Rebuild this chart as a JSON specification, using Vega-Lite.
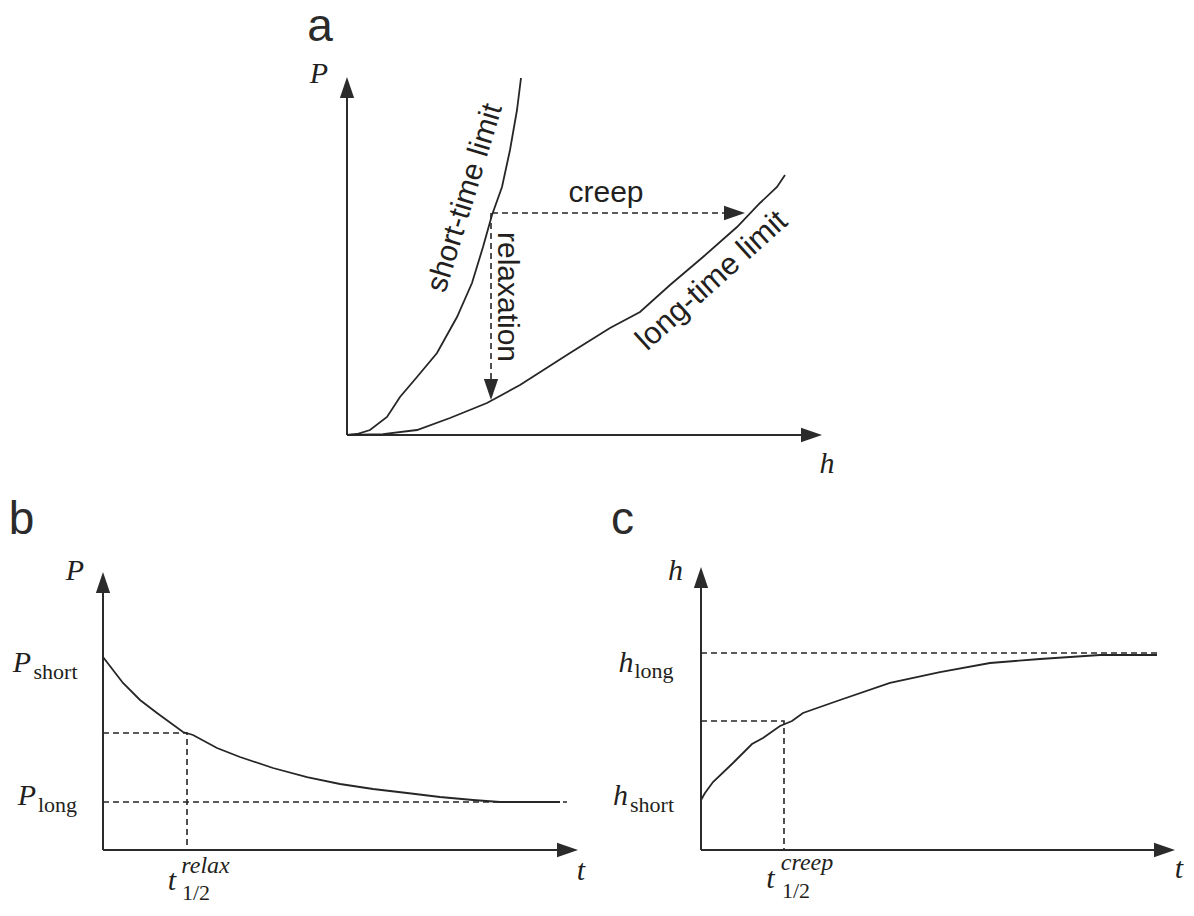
{
  "$schema": "https://vega.github.io/schema/vega-lite/v6.json",
  "padding": 0,
  "spacing": 0,
  "background": "white",
  "config": {"view": {"stroke": null}, "concat": {"spacing": 0}},
  "datasets": {
    "panel_a": [
      {"kind": "axis", "series": "P", "i": 0, "h": 0, "P": 0},
      {"kind": "axis", "series": "P", "i": 1, "h": 0, "P": 8.69},
      {"kind": "axis", "series": "h", "i": 0, "h": 0, "P": 0},
      {"kind": "axis", "series": "h", "i": 1, "h": 9.29, "P": 0},
      {"kind": "curve", "series": "short-time limit", "i": 0, "h": 0, "P": 0},
      {"kind": "curve", "series": "short-time limit", "i": 1, "h": 0.2, "P": 0.025},
      {"kind": "curve", "series": "short-time limit", "i": 2, "h": 0.46, "P": 0.125},
      {"kind": "curve", "series": "short-time limit", "i": 3, "h": 0.8, "P": 0.45},
      {"kind": "curve", "series": "short-time limit", "i": 4, "h": 1.06, "P": 0.95},
      {"kind": "curve", "series": "short-time limit", "i": 5, "h": 1.4, "P": 1.45},
      {"kind": "curve", "series": "short-time limit", "i": 6, "h": 1.8, "P": 2.05},
      {"kind": "curve", "series": "short-time limit", "i": 7, "h": 2.2, "P": 2.95},
      {"kind": "curve", "series": "short-time limit", "i": 8, "h": 2.5, "P": 3.8},
      {"kind": "curve", "series": "short-time limit", "i": 9, "h": 2.72, "P": 4.7},
      {"kind": "curve", "series": "short-time limit", "i": 10, "h": 2.9, "P": 5.5},
      {"kind": "curve", "series": "short-time limit", "i": 11, "h": 3.1, "P": 6.2},
      {"kind": "curve", "series": "short-time limit", "i": 12, "h": 3.26, "P": 7.125},
      {"kind": "curve", "series": "short-time limit", "i": 13, "h": 3.4, "P": 8.125},
      {"kind": "curve", "series": "short-time limit", "i": 14, "h": 3.48, "P": 8.925},
      {"kind": "curve", "series": "long-time limit", "i": 0, "h": 0, "P": 0},
      {"kind": "curve", "series": "long-time limit", "i": 1, "h": 0.72, "P": 0.02},
      {"kind": "curve", "series": "long-time limit", "i": 2, "h": 1.4, "P": 0.125},
      {"kind": "curve", "series": "long-time limit", "i": 3, "h": 2.06, "P": 0.425},
      {"kind": "curve", "series": "long-time limit", "i": 4, "h": 2.8, "P": 0.8},
      {"kind": "curve", "series": "long-time limit", "i": 5, "h": 3.46, "P": 1.25},
      {"kind": "curve", "series": "long-time limit", "i": 6, "h": 4.46, "P": 2.05},
      {"kind": "curve", "series": "long-time limit", "i": 7, "h": 5.26, "P": 2.675},
      {"kind": "curve", "series": "long-time limit", "i": 8, "h": 5.86, "P": 3.075},
      {"kind": "curve", "series": "long-time limit", "i": 9, "h": 6.46, "P": 3.75},
      {"kind": "curve", "series": "long-time limit", "i": 10, "h": 7.12, "P": 4.45},
      {"kind": "curve", "series": "long-time limit", "i": 11, "h": 7.8, "P": 5.2},
      {"kind": "curve", "series": "long-time limit", "i": 12, "h": 8.26, "P": 5.8},
      {"kind": "curve", "series": "long-time limit", "i": 13, "h": 8.6, "P": 6.2},
      {"kind": "curve", "series": "long-time limit", "i": 14, "h": 8.76, "P": 6.5},
      {"kind": "guide", "series": "creep", "i": 0, "h": 2.9, "P": 5.55},
      {"kind": "guide", "series": "creep", "i": 1, "h": 7.75, "P": 5.55},
      {"kind": "guide", "series": "relaxation", "i": 0, "h": 2.88, "P": 5.55},
      {"kind": "guide", "series": "relaxation", "i": 1, "h": 2.88, "P": 1.14},
      {"kind": "arrow-up", "h": 0, "P": 8.6875},
      {"kind": "arrow-right", "h": 9.29, "P": 0},
      {"kind": "arrow-right", "h": 7.75, "P": 5.55},
      {"kind": "arrow-down", "h": 2.88, "P": 1.1375},
      {"kind": "letter", "label": "a", "h": -0.54, "P": 9.86},
      {"kind": "var", "label": "P", "h": -0.56, "P": 8.8},
      {"kind": "var", "label": "h", "h": 9.6, "P": -0.95},
      {"kind": "word", "label": "creep", "h": 5.18, "P": 5.825},
      {"kind": "word-relax", "label": "relaxation", "h": 3.2, "P": 3.45},
      {"kind": "word-short", "label": "short-time limit", "h": 2.36, "P": 5.925},
      {"kind": "word-long", "label": "long-time limit", "h": 7.3, "P": 3.85}
    ],
    "panel_b": [
      {"kind": "axis", "series": "P", "i": 0, "t": 0, "P": 0},
      {"kind": "axis", "series": "P", "i": 1, "t": 0, "P": 8.917},
      {"kind": "axis", "series": "t", "i": 0, "t": 0, "P": 0},
      {"kind": "axis", "series": "t", "i": 1, "t": 9.29, "P": 0},
      {"kind": "curve", "series": "relaxation", "i": 0, "t": 0, "P": 6.433},
      {"kind": "curve", "series": "relaxation", "i": 1, "t": 0.2, "P": 6.0},
      {"kind": "curve", "series": "relaxation", "i": 2, "t": 0.4, "P": 5.567},
      {"kind": "curve", "series": "relaxation", "i": 3, "t": 0.74, "P": 5.0},
      {"kind": "curve", "series": "relaxation", "i": 4, "t": 1.08, "P": 4.567},
      {"kind": "curve", "series": "relaxation", "i": 5, "t": 1.6, "P": 3.933},
      {"kind": "curve", "series": "relaxation", "i": 6, "t": 1.8, "P": 3.833},
      {"kind": "curve", "series": "relaxation", "i": 7, "t": 2.28, "P": 3.4},
      {"kind": "curve", "series": "relaxation", "i": 8, "t": 2.74, "P": 3.1},
      {"kind": "curve", "series": "relaxation", "i": 9, "t": 3.4, "P": 2.733},
      {"kind": "curve", "series": "relaxation", "i": 10, "t": 4.08, "P": 2.433},
      {"kind": "curve", "series": "relaxation", "i": 11, "t": 4.74, "P": 2.2},
      {"kind": "curve", "series": "relaxation", "i": 12, "t": 5.4, "P": 2.033},
      {"kind": "curve", "series": "relaxation", "i": 13, "t": 6.08, "P": 1.9},
      {"kind": "curve", "series": "relaxation", "i": 14, "t": 6.74, "P": 1.767},
      {"kind": "curve", "series": "relaxation", "i": 15, "t": 7.4, "P": 1.667},
      {"kind": "curve", "series": "relaxation", "i": 16, "t": 7.94, "P": 1.6},
      {"kind": "curve", "series": "relaxation", "i": 17, "t": 9.14, "P": 1.6},
      {"kind": "guide", "series": "half", "i": 0, "t": 0, "P": 3.9},
      {"kind": "guide", "series": "half", "i": 1, "t": 1.68, "P": 3.9},
      {"kind": "guide", "series": "half", "i": 2, "t": 1.68, "P": 0},
      {"kind": "guide", "series": "long", "i": 0, "t": 0, "P": 1.6},
      {"kind": "guide", "series": "long", "i": 1, "t": 9.28, "P": 1.6},
      {"kind": "arrow-up", "t": 0, "P": 8.917},
      {"kind": "arrow-right", "t": 9.29, "P": 0},
      {"kind": "letter", "label": "b", "t": -1.63, "P": 10.533},
      {"kind": "var", "label": "P", "t": -0.56, "P": 9.0},
      {"kind": "var", "label": "P", "t": -1.62, "P": 5.933},
      {"kind": "var", "label": "P", "t": -1.52, "P": 1.5},
      {"kind": "var", "label": "t", "t": 9.56, "P": -1.0},
      {"kind": "var", "label": "t", "t": 1.38, "P": -1.333},
      {"kind": "sub", "label": "short", "t": -0.95, "P": 5.7},
      {"kind": "sub", "label": "long", "t": -0.91, "P": 1.267},
      {"kind": "sub", "label": "1/2", "t": 1.86, "P": -1.667},
      {"kind": "sup", "label": "relax", "t": 2.05, "P": -0.767}
    ],
    "panel_c": [
      {"kind": "axis", "series": "h", "i": 0, "t": 0, "h": 0},
      {"kind": "axis", "series": "h", "i": 1, "t": 0, "h": 9.083},
      {"kind": "axis", "series": "t", "i": 0, "t": 0, "h": 0},
      {"kind": "axis", "series": "t", "i": 1, "t": 9.27, "h": 0},
      {"kind": "curve", "series": "creep", "i": 0, "t": 0, "h": 1.667},
      {"kind": "curve", "series": "creep", "i": 1, "t": 0.08, "h": 1.9},
      {"kind": "curve", "series": "creep", "i": 2, "t": 0.24, "h": 2.267},
      {"kind": "curve", "series": "creep", "i": 3, "t": 0.64, "h": 2.9},
      {"kind": "curve", "series": "creep", "i": 4, "t": 1.02, "h": 3.533},
      {"kind": "curve", "series": "creep", "i": 5, "t": 1.24, "h": 3.733},
      {"kind": "curve", "series": "creep", "i": 6, "t": 1.58, "h": 4.133},
      {"kind": "curve", "series": "creep", "i": 7, "t": 1.82, "h": 4.3},
      {"kind": "curve", "series": "creep", "i": 8, "t": 2.04, "h": 4.567},
      {"kind": "curve", "series": "creep", "i": 9, "t": 2.78, "h": 5.0},
      {"kind": "curve", "series": "creep", "i": 10, "t": 3.78, "h": 5.567},
      {"kind": "curve", "series": "creep", "i": 11, "t": 4.78, "h": 5.933},
      {"kind": "curve", "series": "creep", "i": 12, "t": 5.78, "h": 6.233},
      {"kind": "curve", "series": "creep", "i": 13, "t": 6.78, "h": 6.367},
      {"kind": "curve", "series": "creep", "i": 14, "t": 7.98, "h": 6.5},
      {"kind": "curve", "series": "creep", "i": 15, "t": 9.12, "h": 6.5},
      {"kind": "guide", "series": "long", "i": 0, "t": 0, "h": 6.567},
      {"kind": "guide", "series": "long", "i": 1, "t": 9.18, "h": 6.567},
      {"kind": "guide", "series": "half", "i": 0, "t": 0, "h": 4.3},
      {"kind": "guide", "series": "half", "i": 1, "t": 1.66, "h": 4.3},
      {"kind": "guide", "series": "half", "i": 2, "t": 1.66, "h": 0},
      {"kind": "arrow-up", "t": 0, "h": 9.083},
      {"kind": "arrow-right", "t": 9.27, "h": 0},
      {"kind": "letter", "label": "c", "t": -1.57, "h": 10.533},
      {"kind": "var", "label": "h", "t": -0.51, "h": 9.0},
      {"kind": "var", "label": "h", "t": -1.5, "h": 5.933},
      {"kind": "var", "label": "h", "t": -1.61, "h": 1.5},
      {"kind": "var", "label": "t", "t": 9.56, "h": -0.933},
      {"kind": "var", "label": "t", "t": 1.39, "h": -1.267},
      {"kind": "sub", "label": "long", "t": -0.94, "h": 5.733},
      {"kind": "sub", "label": "short", "t": -0.98, "h": 1.267},
      {"kind": "sub", "label": "1/2", "t": 1.9, "h": -1.6},
      {"kind": "sup", "label": "creep", "t": 2.12, "h": -0.667}
    ]
  },
  "vconcat": [
    {
      "width": 1194,
      "height": 490,
      "data": {"name": "panel_a"},
      "encoding": {
        "x": {"field": "h", "type": "quantitative", "scale": {"domain": [-6.94, 16.94], "nice": false, "zero": false}, "axis": null},
        "y": {"field": "P", "type": "quantitative", "scale": {"domain": [-1.375, 10.875], "nice": false, "zero": false}, "axis": null}
      },
      "layer": [
        {"transform": [{"filter": "datum.kind === 'axis'"}], "mark": {"type": "line", "color": "#2b2b2b", "strokeWidth": 2}, "encoding": {"detail": {"field": "series"}, "order": {"field": "i"}}},
        {"transform": [{"filter": "datum.kind === 'curve'"}], "mark": {"type": "line", "color": "#262626", "strokeWidth": 1.8}, "encoding": {"detail": {"field": "series"}, "order": {"field": "i"}}},
        {"transform": [{"filter": "datum.kind === 'guide'"}], "mark": {"type": "line", "color": "#262626", "strokeWidth": 1.6, "strokeDash": [6, 4]}, "encoding": {"detail": {"field": "series"}, "order": {"field": "i"}}},
        {"transform": [{"filter": "datum.kind === 'arrow-right'"}], "mark": {"type": "point", "shape": "M1,0L-1,-0.68L-1,0.68Z", "filled": true, "opacity": 1, "size": 441, "color": "#2b2b2b", "angle": 0}},
        {"transform": [{"filter": "datum.kind === 'arrow-up'"}], "mark": {"type": "point", "shape": "M1,0L-1,-0.68L-1,0.68Z", "filled": true, "opacity": 1, "size": 441, "color": "#2b2b2b", "angle": 270}},
        {"transform": [{"filter": "datum.kind === 'arrow-down'"}], "mark": {"type": "point", "shape": "M1,0L-1,-0.68L-1,0.68Z", "filled": true, "opacity": 1, "size": 441, "color": "#2b2b2b", "angle": 90}},
        {"transform": [{"filter": "datum.kind === 'letter'"}], "mark": {"type": "text", "font": "Liberation Sans", "fontSize": 46, "color": "#2b2b2b", "align": "center", "baseline": "alphabetic"}, "encoding": {"text": {"field": "label"}}},
        {"transform": [{"filter": "datum.kind === 'var'"}], "mark": {"type": "text", "font": "Liberation Serif", "fontStyle": "italic", "fontSize": 30, "color": "#231f20", "align": "center", "baseline": "alphabetic"}, "encoding": {"text": {"field": "label"}}},
        {"transform": [{"filter": "datum.kind === 'word'"}], "mark": {"type": "text", "font": "Liberation Sans", "fontSize": 30, "color": "#231f20", "align": "center", "baseline": "alphabetic"}, "encoding": {"text": {"field": "label"}}},
        {"transform": [{"filter": "datum.kind === 'word-relax'"}], "mark": {"type": "text", "font": "Liberation Sans", "fontSize": 30, "color": "#231f20", "align": "center", "baseline": "middle", "angle": 90}, "encoding": {"text": {"field": "label"}}},
        {"transform": [{"filter": "datum.kind === 'word-short'"}], "mark": {"type": "text", "font": "Liberation Sans", "fontSize": 30, "color": "#231f20", "align": "center", "baseline": "middle", "angle": 287}, "encoding": {"text": {"field": "label"}}},
        {"transform": [{"filter": "datum.kind === 'word-long'"}], "mark": {"type": "text", "font": "Liberation Sans", "fontSize": 31, "color": "#231f20", "align": "center", "baseline": "middle", "angle": 318}, "encoding": {"text": {"field": "label"}}}
      ]
    },
    {
      "hconcat": [
        {
          "width": 597,
          "height": 426,
          "data": {"name": "panel_b"},
          "encoding": {
            "x": {"field": "t", "type": "quantitative", "scale": {"domain": [-2.06, 9.88], "nice": false, "zero": false}, "axis": null},
            "y": {"field": "P", "type": "quantitative", "scale": {"domain": [-2.2, 12], "nice": false, "zero": false}, "axis": null}
          },
          "layer": [
            {"transform": [{"filter": "datum.kind === 'axis'"}], "mark": {"type": "line", "color": "#2b2b2b", "strokeWidth": 2}, "encoding": {"detail": {"field": "series"}, "order": {"field": "i"}}},
            {"transform": [{"filter": "datum.kind === 'curve'"}], "mark": {"type": "line", "color": "#262626", "strokeWidth": 1.8}, "encoding": {"detail": {"field": "series"}, "order": {"field": "i"}}},
            {"transform": [{"filter": "datum.kind === 'guide'"}], "mark": {"type": "line", "color": "#262626", "strokeWidth": 1.6, "strokeDash": [6, 4]}, "encoding": {"detail": {"field": "series"}, "order": {"field": "i"}}},
            {"transform": [{"filter": "datum.kind === 'arrow-right'"}], "mark": {"type": "point", "shape": "M1,0L-1,-0.68L-1,0.68Z", "filled": true, "opacity": 1, "size": 441, "color": "#2b2b2b", "angle": 0}},
            {"transform": [{"filter": "datum.kind === 'arrow-up'"}], "mark": {"type": "point", "shape": "M1,0L-1,-0.68L-1,0.68Z", "filled": true, "opacity": 1, "size": 441, "color": "#2b2b2b", "angle": 270}},
            {"transform": [{"filter": "datum.kind === 'letter'"}], "mark": {"type": "text", "font": "Liberation Sans", "fontSize": 46, "color": "#2b2b2b", "align": "center", "baseline": "alphabetic"}, "encoding": {"text": {"field": "label"}}},
            {"transform": [{"filter": "datum.kind === 'var'"}], "mark": {"type": "text", "font": "Liberation Serif", "fontStyle": "italic", "fontSize": 30, "color": "#231f20", "align": "center", "baseline": "alphabetic"}, "encoding": {"text": {"field": "label"}}},
            {"transform": [{"filter": "datum.kind === 'sub'"}], "mark": {"type": "text", "font": "Liberation Serif", "fontSize": 22, "color": "#231f20", "align": "center", "baseline": "alphabetic"}, "encoding": {"text": {"field": "label"}}},
            {"transform": [{"filter": "datum.kind === 'sup'"}], "mark": {"type": "text", "font": "Liberation Serif", "fontStyle": "italic", "fontSize": 24, "color": "#231f20", "align": "center", "baseline": "alphabetic"}, "encoding": {"text": {"field": "label"}}}
          ]
        },
        {
          "width": 597,
          "height": 426,
          "data": {"name": "panel_c"},
          "encoding": {
            "x": {"field": "t", "type": "quantitative", "scale": {"domain": [-2.08, 9.86], "nice": false, "zero": false}, "axis": null},
            "y": {"field": "h", "type": "quantitative", "scale": {"domain": [-2.2, 12], "nice": false, "zero": false}, "axis": null}
          },
          "layer": [
            {"transform": [{"filter": "datum.kind === 'axis'"}], "mark": {"type": "line", "color": "#2b2b2b", "strokeWidth": 2}, "encoding": {"detail": {"field": "series"}, "order": {"field": "i"}}},
            {"transform": [{"filter": "datum.kind === 'curve'"}], "mark": {"type": "line", "color": "#262626", "strokeWidth": 1.8}, "encoding": {"detail": {"field": "series"}, "order": {"field": "i"}}},
            {"transform": [{"filter": "datum.kind === 'guide'"}], "mark": {"type": "line", "color": "#262626", "strokeWidth": 1.6, "strokeDash": [6, 4]}, "encoding": {"detail": {"field": "series"}, "order": {"field": "i"}}},
            {"transform": [{"filter": "datum.kind === 'arrow-right'"}], "mark": {"type": "point", "shape": "M1,0L-1,-0.68L-1,0.68Z", "filled": true, "opacity": 1, "size": 441, "color": "#2b2b2b", "angle": 0}},
            {"transform": [{"filter": "datum.kind === 'arrow-up'"}], "mark": {"type": "point", "shape": "M1,0L-1,-0.68L-1,0.68Z", "filled": true, "opacity": 1, "size": 441, "color": "#2b2b2b", "angle": 270}},
            {"transform": [{"filter": "datum.kind === 'letter'"}], "mark": {"type": "text", "font": "Liberation Sans", "fontSize": 46, "color": "#2b2b2b", "align": "center", "baseline": "alphabetic"}, "encoding": {"text": {"field": "label"}}},
            {"transform": [{"filter": "datum.kind === 'var'"}], "mark": {"type": "text", "font": "Liberation Serif", "fontStyle": "italic", "fontSize": 30, "color": "#231f20", "align": "center", "baseline": "alphabetic"}, "encoding": {"text": {"field": "label"}}},
            {"transform": [{"filter": "datum.kind === 'sub'"}], "mark": {"type": "text", "font": "Liberation Serif", "fontSize": 22, "color": "#231f20", "align": "center", "baseline": "alphabetic"}, "encoding": {"text": {"field": "label"}}},
            {"transform": [{"filter": "datum.kind === 'sup'"}], "mark": {"type": "text", "font": "Liberation Serif", "fontStyle": "italic", "fontSize": 24, "color": "#231f20", "align": "center", "baseline": "alphabetic"}, "encoding": {"text": {"field": "label"}}}
          ]
        }
      ]
    }
  ]
}
